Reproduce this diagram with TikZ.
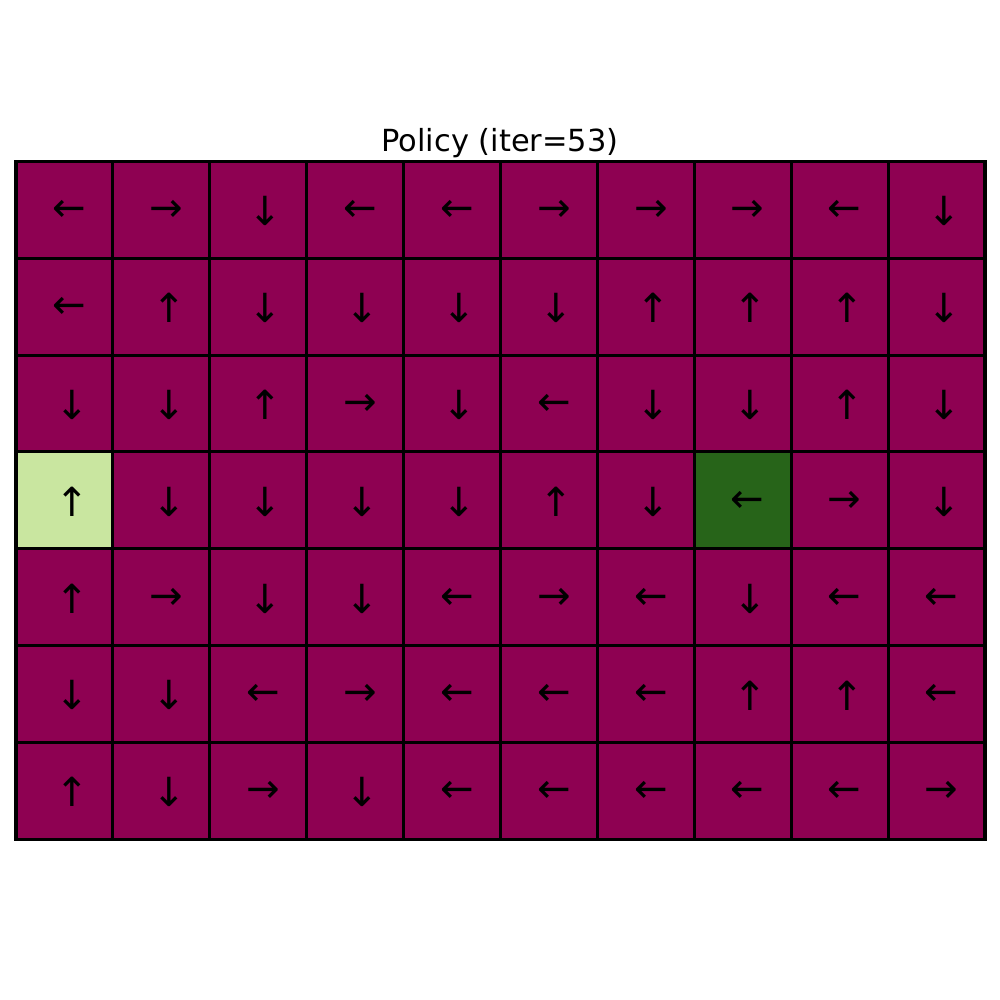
\documentclass[tikz,border=0pt]{standalone}
\usepackage{fontspec}
\setmainfont{DejaVu Sans}
\definecolor{pv}{HTML}{8E0152}
\definecolor{lg}{HTML}{C9E6A0}
\definecolor{dg}{HTML}{276419}
\def\arL{←}\def\arR{→}\def\arU{↑}\def\arD{↓}
\def\shL{5}\def\shR{5}\def\shU{7.5}\def\shD{7.5}
\begin{document}
\begin{tikzpicture}[x=0.254mm,y=-0.254mm,
  cellbox/.style={draw=black,line width=2.2pt,minimum width=24.61mm,minimum height=24.59mm,inner sep=0pt},
  arrowtext/.style={inner sep=0pt,font=\fontsize{29}{29}\selectfont},
  titletext/.style={font=\fontsize{22}{26}\selectfont}]
\useasboundingbox[fill=white] (0,0) rectangle (1000,1000);
\node[titletext] (title) at (500,143) {Policy (iter=53)};
\foreach \row [count=\r from 0] in {
  {L,R,D,L,L,R,R,R,L,D},
  {L,U,D,D,D,D,U,U,U,D},
  {D,D,U,R,D,L,D,D,U,D},
  {U,D,D,D,D,U,D,L,R,D},
  {U,R,D,D,L,R,L,D,L,L},
  {D,D,L,R,L,L,L,U,U,L},
  {U,D,R,D,L,L,L,L,L,R}} {
  \foreach \a [count=\c from 0] in \row {
    \def\fc{pv}
    \ifnum\r=3 \ifnum\c=0 \def\fc{lg}\fi \ifnum\c=7 \def\fc{dg}\fi\fi
    \node[cellbox,fill=\fc] (c\r-\c) at ({16+(\c+0.5)*96.9},{161.5+(\r+0.5)*96.8}) {};
    \node[arrowtext] (a\r-\c) at ([xshift={\csname sh\a\endcsname*0.254mm},yshift=-1.5*0.254mm]c\r-\c.center) {\csname ar\a\endcsname};
  }
}
\end{tikzpicture}
\end{document}
